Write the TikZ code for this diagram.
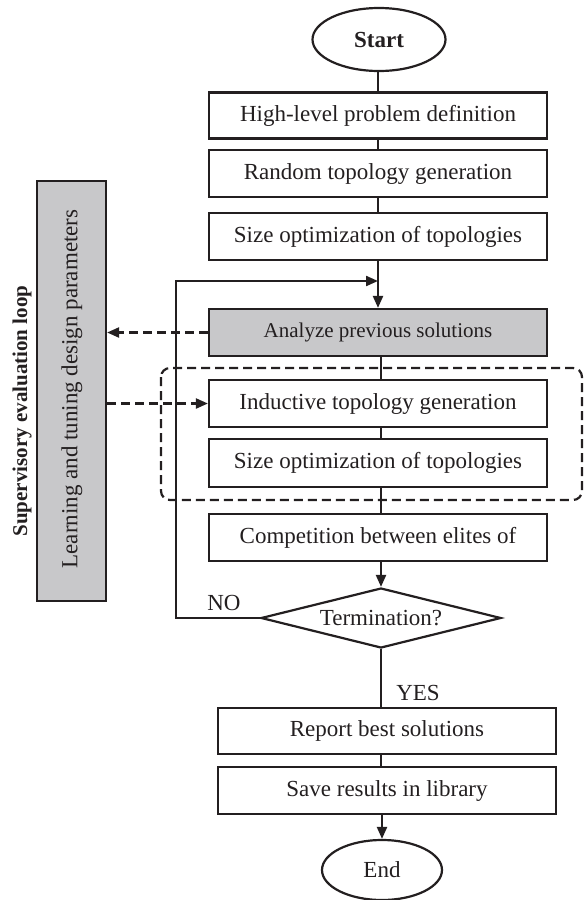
\documentclass[tikz,border=0pt]{standalone}
\usepackage{fontspec}
\setmainfont{Liberation Serif}
\usetikzlibrary{shapes.geometric,arrows.meta}
\definecolor{ink}{HTML}{231F20}
\definecolor{boxgray}{HTML}{C8C8CA}
\tikzset{
  base/.style={draw=ink, line width=2.2pt, inner sep=0pt, text=ink, font=\fontsize{23}{27}\selectfont},
  stepbox/.style={base, rectangle, minimum width=338pt, minimum height=47pt},
  graybox/.style={stepbox, fill=boxgray, font=\fontsize{21}{25}\selectfont},
  term/.style={base, ellipse},
  decision/.style={base, diamond, aspect=4, minimum width=240pt, minimum height=60pt},
  conn/.style={draw=ink, line width=2.2pt},
  arr/.style={conn, -{Triangle[length=12pt,width=10pt]}},
  dasharr/.style={arr, dash pattern=on 9pt off 5pt},
  dashbox/.style={draw=ink, line width=2.2pt, dash pattern=on 9pt off 5pt, rounded corners=9pt},
  lbl/.style={text=ink, inner sep=0pt, font=\fontsize{23}{27}\selectfont}
}
\begin{document}
\begin{tikzpicture}[x=1pt,y=-1pt]
\useasboundingbox (0,0) rectangle (586,900);
% dashed group box
\draw[dashbox] (161,368) rectangle (582,500);
% nodes
\node[term, minimum width=133pt, minimum height=63pt, font=\bfseries\fontsize{23}{27}\selectfont] (start) at (379,39.5) {Start};
\node[stepbox, minimum height=46pt] (b1) at (378,115.5) {High-level problem definition};
\node[stepbox] (b2) at (378,173.5) {Random topology generation};
\node[stepbox] (b3) at (378,236.5) {Size optimization of topologies};
\node[graybox] (ana) at (378,332.5) {Analyze previous solutions};
\node[stepbox] (ind) at (378,403.5) {Inductive topology generation};
\node[stepbox, minimum height=48pt] (sz) at (378,463) {Size optimization of topologies};
\node[stepbox] (comp) at (378,537.5) {Competition between elites of};
\node[decision] (dec) at (381,618) {Termination?};
\node[stepbox, minimum height=46pt] (rep) at (387,731) {Report best solutions};
\node[stepbox] (save) at (387,790.5) {Save results in library};
\node[term, minimum width=120pt, minimum height=60pt] (end) at (382,870) {End};
% supervisory box
\node[base, fill=boxgray, minimum width=69pt, minimum height=420pt] (learn) at (71.5,391) {};
\node[lbl, rotate=90] (learntxt) at (72,389) {Learning and tuning design parameters};
\node[lbl, rotate=90, font=\bfseries\fontsize{21}{25}\selectfont] (sup) at (22,411) {Supervisory evaluation loop};
% labels
\node[lbl] (no) at (224,603) {NO};
\node[lbl] (yes) at (418,693) {YES};
% coordinates
\coordinate (loopL) at (176,618);
\coordinate (loopT) at (176,281);
\coordinate (loopIn) at (378,281);
% connectors
\draw[conn] (start.south -| b1.north) -- (b1.north);
\draw[conn] (b1.south) -- (b2.north);
\draw[conn] (b2.south) -- (b3.north);
\draw[arr] (b3.south) -- (ana.north);
\draw[conn] (ana.south -| dec.north) -- (ind.north -| dec.north);
\draw[conn] (ind.south -| dec.north) -- (sz.north -| dec.north);
\draw[conn] (sz.south -| dec.north) -- (comp.north -| dec.north);
\draw[arr] (comp.south -| dec.north) -- (dec.north);
\draw[conn] (dec.south) -- (rep.north -| dec.south);
\draw[conn] (rep.south -| dec.south) -- (save.north -| dec.south);
\draw[arr] (save.south -| end.north) -- (end.north);
\draw[arr] (dec.west) -- (loopL) -- (loopT) -- (loopIn);
\draw[dasharr] (ana.west) -- (ana.west -| learn.east);
\draw[dasharr] (ind.west -| learn.east) -- (ind.west);
\end{tikzpicture}
\end{document}
